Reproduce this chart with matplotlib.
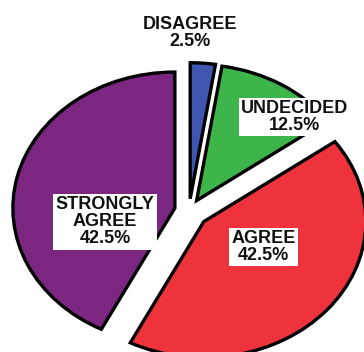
import matplotlib
matplotlib.use("Agg")
import matplotlib.pyplot as plt
import numpy as np

categories = ["DISAGREE", "UNDECIDED", "AGREE", "STRONGLY\nAGREE"]
values = [2.5, 12.5, 42.5, 42.5]
colors = ["#3F55B0", "#3DB54A", "#EE333D", "#7B2781"]
explode = [0.09, 0.09, 0.12, 0.09]

fig = plt.figure(figsize=(3.64, 3.52), dpi=100)
ax = fig.add_axes([0, 0, 1, 1])
wedges, _ = ax.pie(values, colors=colors, startangle=90, counterclock=False,
                   explode=explode,
                   wedgeprops=dict(edgecolor="black", linewidth=2.4, joinstyle="miter"))
ax.set_aspect("auto")
ax.set_xlim(-1.167, 1.080)
ax.set_ylim(-1.037, 1.551)
ax.axis("off")

label_pos = [(0.003, 1.31), (0.654, 0.69), (0.46, -0.265), (-0.519, -0.08)]
for cat, v, (x, y), w in zip(categories, values, label_pos, wedges):
    txt = f"{cat}\n{v:.1f}%"
    box = None if cat == "DISAGREE" else dict(facecolor="white", edgecolor="none", pad=1.5)
    ax.text(x, y, txt, ha="center", va="center", fontsize=13, fontweight="bold",
            family=["Liberation Sans", "DejaVu Sans"], linespacing=1.0, bbox=box,
            color="#111111")

fig.savefig("out.png", dpi=100)
